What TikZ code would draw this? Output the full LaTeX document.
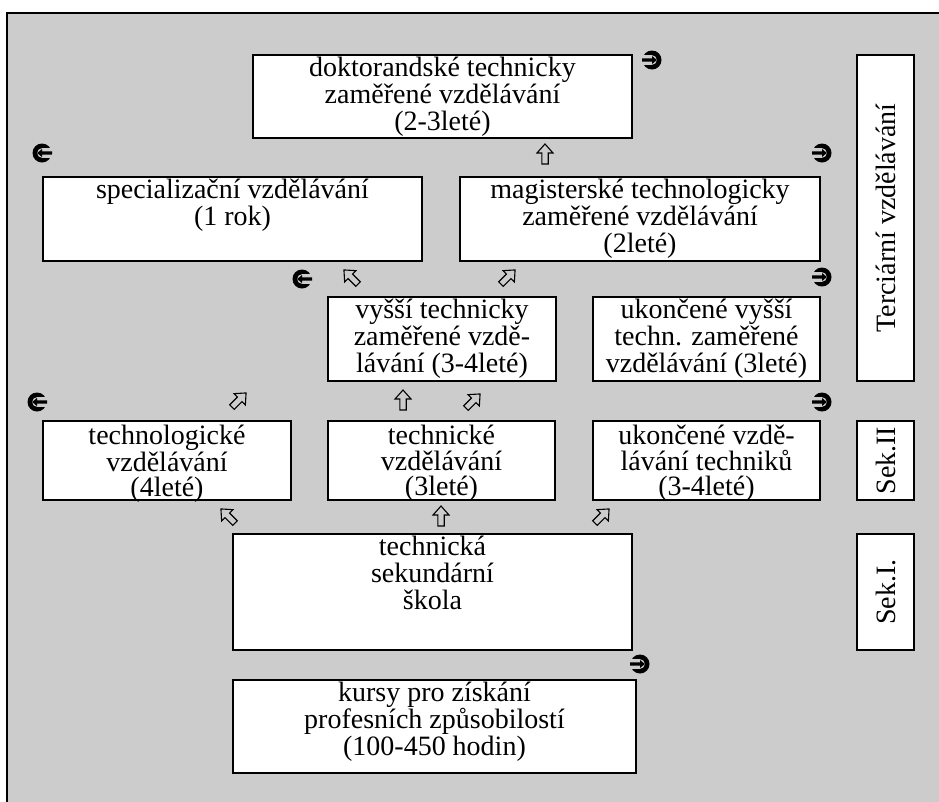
\documentclass[tikz,border=0pt]{standalone}
\usepackage{fontspec}
\setmainfont{Liberation Serif}
\usepackage{tikz}
\definecolor{panel}{HTML}{CCCCCC}
\newcommand{\bt}[3]{\parbox[c][#2pt][t]{#1pt}{\centering\rule{0pt}{21.5pt}#3}}
\newcommand{\bts}[3]{\parbox[c][#2pt][t]{#1pt}{\fontsize{28}{25.5}\selectfont\centering\rule{0pt}{23.5pt}#3}}
\tikzset{
  box/.style={draw, fill=white, line width=1.6pt, inner sep=0pt},
  curl/.pic={\fill (0,0) circle (9.5);
             \fill[panel] (0,0) circle (4.8) (0,-4.8) rectangle (-10,4.8);
             \fill (-10,-1.7) -- (0,-1.7) -- (0,-4) -- (4.8,0) -- (0,4) -- (0,1.7) -- (-10,1.7) -- cycle;},
  hollow/.pic={\draw[line width=1.1pt] (0,-10) -- (8,-1) -- (3.2,-1) -- (3.2,10) -- (-3.2,10) -- (-3.2,-1) -- (-8,-1) -- cycle;}
}

\begin{document}
\begin{tikzpicture}[x=1pt, y=-1pt, font=\fontsize{28}{27}\selectfont]
              \useasboundingbox (0,0) rectangle (939,801);
              \fill[panel] (7,13) rectangle (945,805);
              \draw[line width=1.5pt] (7,805) -- (7,13) -- (945,13);
              \node[box] (dokt) at (442.5,96.5) {\bt{379}{83}{doktorandské technicky\\zaměřené vzdělávání\\(2-3leté)}};
              \node[box] (spec) at (232.5,219) {\bt{379}{84}{specializační vzdělávání\\(1 rok)}};
              \node[box] (mag) at (640,219) {\bt{360}{84}{magisterské technologicky\\zaměřené vzdělávání\\(2leté)}};
              \node[box] (vyssi) at (442,339) {\bt{228}{84}{vyšší technicky\\zaměřené vzdě-\\lávání (3-4leté)}};
              \node[box] (ukvyssi) at (706.5,339) {\bt{227}{84}{ukončené vyšší\\techn. zaměřené\\vzdělávání (3leté)}};
              \node[box] (technol) at (167,460.5) {\bts{248}{79}{technologické\\vzdělávání\\(4leté)}};
              \node[box] (technic) at (441.5,460.5) {\bts{227}{79}{technické\\vzdělávání\\(3leté)}};
              \node[box] (uktech) at (706.5,460.5) {\bts{227}{79}{ukončené vzdě-\\lávání techniků\\(3-4leté)}};
              \node[box] (skola) at (432.5,592) {\bt{399}{116}{technická\\sekundární\\škola}};
              \node[box] (kursy) at (434.5,726.5) {\bt{403}{93}{kursy pro získání\\profesních způsobilostí\\(100-450 hodin)}};
              \node[box, rotate=90, minimum width=326pt, minimum height=57pt] (terc) at (885.5,218) {Terciární vzdělávání};
              \node[box, rotate=90, minimum width=79pt, minimum height=57pt] (sekII) at (885.5,460.5) {Sek.II};
              \node[box, rotate=90, minimum width=116pt, minimum height=57pt] (sekI) at (885.5,592) {Sek.I.};
              \pic at (652,60) {curl};
              \pic[xscale=-1] at (42,153) {curl};
              \pic at (822,153) {curl};
              \pic[xscale=-1] at (302,279) {curl};
              \pic at (822,277) {curl};
              \pic[xscale=-1] at (37,402) {curl};
              \pic at (822,402) {curl};
              \pic at (640,664) {curl};
              \pic at (545,154) {hollow};
              \pic[rotate=45] at (351,277) {hollow};
              \pic[rotate=-45] at (508,277) {hollow};
              \pic[rotate=-45] at (239,400) {hollow};
              \pic at (403,400) {hollow};
              \pic[rotate=-45] at (473,401) {hollow};
              \pic[rotate=45] at (228,516) {hollow};
              \pic at (441,516) {hollow};
              \pic[rotate=-45] at (602,516) {hollow};
            \end{tikzpicture}
\end{document}
